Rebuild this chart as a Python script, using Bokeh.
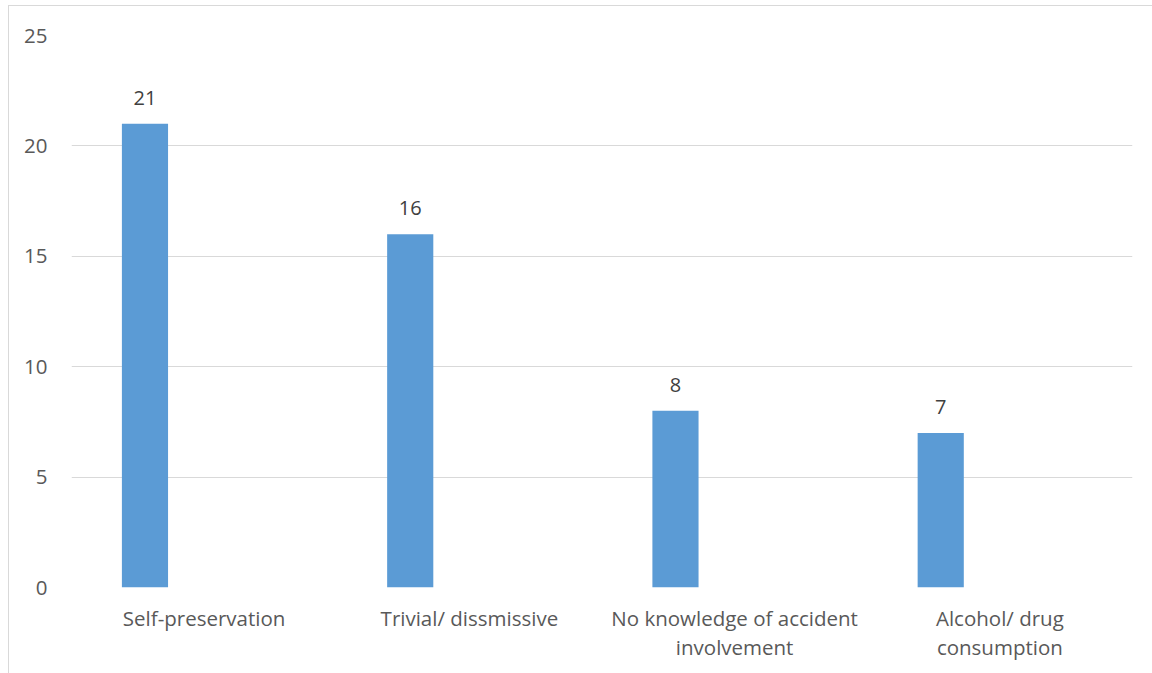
from bokeh.plotting import figure
from bokeh.models import ColumnDataSource, FactorRange, SingleIntervalTicker
from bokeh.transform import dodge
from bokeh.core.properties import value
from bokeh.embed import file_html
from bokeh.resources import INLINE

categories = ["Self-preservation", "Trivial/ dissmissive", "No knowledge of accident\ninvolvement", "Alcohol/ drug\nconsumption"]
values = [21, 16, 8, 7]
labels = [str(v) for v in values]

src = ColumnDataSource(dict(cat=categories, val=values, lab=labels))

p = figure(x_range=FactorRange(*categories), y_range=(0, 25), width=1144, height=668,
           output_backend="svg", toolbar_location=None,
           min_border_left=62, min_border_right=21, min_border_top=29, min_border_bottom=87)
p.styles = {"margin-left": "8px", "margin-top": "5px",
            "border-left": "1.5px solid #d9d9d9", "border-top": "1.5px solid #d9d9d9"}
p.outline_line_color = None
p.background_fill_color = "white"
p.border_fill_color = "white"
p.x_range.range_padding = 0

p.vbar(x=dodge("cat", -0.223, range=p.x_range), top="val", width=0.174, bottom=0,
       source=src, fill_color="#5b9bd5", line_color=None)
p.text(x=dodge("cat", -0.223, range=p.x_range), y="val", text="lab", source=src,
       text_align="center", text_baseline="middle", y_offset=-26,
       text_font=value("Open Sans"), text_font_size="20px", text_color="#404040")

p.yaxis.ticker = SingleIntervalTicker(interval=5)
p.ygrid.grid_line_color = "#d9d9d9"
p.ygrid.grid_line_width = 1
p.xgrid.grid_line_color = None
for ax in (p.xaxis[0], p.yaxis[0]):
    ax.axis_line_color = None
    ax.major_tick_line_color = None
    ax.minor_tick_line_color = None
    ax.major_label_text_font = "Open Sans"
    ax.major_label_text_font_size = "20.5px"
    ax.major_label_text_color = "#595959"
p.xaxis.major_label_text_line_height = 1.05
p.yaxis.major_label_standoff = 18
p.xaxis.major_label_standoff = 10

open("out.html", "w").write(file_html(p, INLINE))
